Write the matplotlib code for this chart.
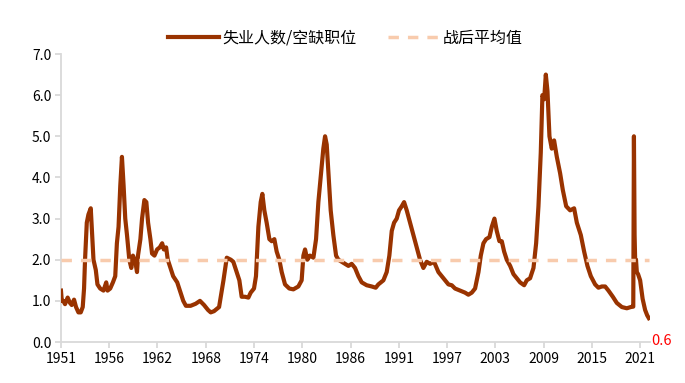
import matplotlib
matplotlib.use("Agg")
import matplotlib.pyplot as plt

plt.rcParams['font.family'] = ['Noto Sans CJK SC', 'DejaVu Sans']

# 失业人数 / 空缺职位
years = [
    1951.00, 1951.10, 1951.28, 1951.49, 1951.81, 1952.09, 1952.30, 1952.58, 1952.82, 1953.11,
    1953.39, 1953.63, 1953.79, 1953.91, 1954.12, 1954.32, 1954.60, 1954.77, 1954.93, 1955.21,
    1955.41, 1955.74, 1956.14, 1956.47, 1956.63, 1956.95, 1957.28, 1957.56, 1957.76, 1957.96,
    1958.17, 1958.37, 1958.57, 1958.77, 1958.98, 1959.26, 1959.50, 1959.70, 1959.99, 1960.19,
    1960.31, 1960.60, 1960.80, 1961.08, 1961.32, 1961.53, 1961.81, 1962.01, 1962.30, 1962.62,
    1962.94, 1963.23, 1963.43, 1963.71, 1963.91, 1964.24, 1964.56, 1965.05, 1965.45, 1965.78,
    1966.10, 1966.67, 1967.28, 1967.80, 1968.29, 1968.77, 1969.10, 1969.50, 1970.11, 1970.31,
    1970.64, 1971.04, 1971.53, 1971.83, 1972.24, 1972.56, 1972.84, 1973.24, 1973.65, 1973.93,
    1974.33, 1974.57, 1974.86, 1975.14, 1975.34, 1975.58, 1975.86, 1976.19, 1976.47, 1976.79,
    1977.07, 1977.39, 1977.68, 1978.08, 1978.60, 1979.09, 1979.69, 1980.09, 1980.30, 1980.50,
    1980.78, 1981.10, 1981.51, 1981.83, 1982.11, 1982.39, 1982.71, 1982.92, 1983.12, 1983.36,
    1983.60, 1983.92, 1984.25, 1984.53, 1984.93, 1985.33, 1985.74, 1986.14, 1986.54, 1986.95,
    1987.35, 1987.95, 1988.56, 1989.04, 1989.36, 1989.97, 1990.37, 1990.69, 1990.98, 1991.26,
    1991.58, 1991.86, 1992.19, 1992.47, 1992.79, 1993.19, 1993.60, 1994.00, 1994.40, 1994.80,
    1995.21, 1995.61, 1996.09, 1996.62, 1997.22, 1997.83, 1998.23, 1998.63, 1999.24, 1999.84,
    2000.24, 2000.65, 2001.05, 2001.46, 2001.74, 2002.06, 2002.38, 2002.79, 2003.07, 2003.39,
    2003.67, 2003.99, 2004.28, 2004.56, 2004.88, 2005.29, 2005.69, 2006.09, 2006.49, 2006.98,
    2007.30, 2007.70, 2008.11, 2008.43, 2008.71, 2008.99, 2009.19, 2009.40, 2009.60, 2009.80,
    2010.04, 2010.32, 2010.60, 2010.93, 2011.33, 2011.65, 2012.06, 2012.54, 2013.02, 2013.35,
    2013.83, 2014.23, 2014.63, 2015.04, 2015.56, 2015.96, 2016.37, 2016.77, 2017.17, 2017.70,
    2018.18, 2018.79, 2019.39, 2019.87, 2020.17, 2020.25, 2020.33, 2020.42, 2020.50, 2020.60,
    2020.75, 2021.00, 2021.30, 2021.60, 2021.85, 2022.05,
]
ratio = [
    1.25, 1.00, 1.00, 0.92, 1.08, 0.95, 0.90, 1.03, 0.85, 0.72,
    0.72, 0.85, 1.30, 2.00, 2.90, 3.10, 3.25, 2.60, 2.00, 1.75,
    1.40, 1.30, 1.25, 1.45, 1.25, 1.30, 1.45, 1.60, 2.40, 2.80,
    3.80, 4.50, 3.80, 3.00, 2.60, 2.00, 1.80, 2.10, 1.95, 1.70,
    2.10, 2.50, 3.00, 3.45, 3.40, 2.90, 2.50, 2.15, 2.10, 2.25,
    2.30, 2.40, 2.25, 2.30, 2.00, 1.80, 1.60, 1.45, 1.20, 1.00,
    0.88, 0.88, 0.93, 1.00, 0.90, 0.78, 0.72, 0.75, 0.85, 1.10,
    1.50, 2.05, 2.00, 1.95, 1.70, 1.50, 1.10, 1.10, 1.08, 1.20,
    1.30, 1.60, 2.80, 3.40, 3.60, 3.20, 2.90, 2.50, 2.45, 2.50,
    2.20, 2.00, 1.70, 1.40, 1.30, 1.28, 1.35, 1.50, 2.10, 2.25,
    2.00, 2.10, 2.05, 2.50, 3.40, 4.00, 4.70, 5.00, 4.80, 4.00,
    3.20, 2.60, 2.10, 2.00, 1.95, 1.90, 1.85, 1.90, 1.80, 1.60,
    1.45, 1.38, 1.35, 1.32, 1.40, 1.50, 1.70, 2.10, 2.70, 2.90,
    3.00, 3.20, 3.30, 3.40, 3.20, 2.90, 2.60, 2.30, 2.00, 1.80,
    1.95, 1.90, 1.95, 1.70, 1.55, 1.40, 1.38, 1.30, 1.25, 1.20,
    1.15, 1.20, 1.30, 1.70, 2.10, 2.40, 2.50, 2.55, 2.80, 3.00,
    2.70, 2.45, 2.45, 2.20, 2.00, 1.85, 1.65, 1.55, 1.45, 1.38,
    1.50, 1.55, 1.80, 2.40, 3.30, 4.60, 6.00, 5.90, 6.50, 6.10,
    5.00, 4.70, 4.90, 4.50, 4.10, 3.70, 3.30, 3.20, 3.25, 2.90,
    2.60, 2.20, 1.85, 1.60, 1.40, 1.32, 1.35, 1.35, 1.25, 1.10,
    0.95, 0.85, 0.82, 0.85, 0.86, 5.00, 2.60, 1.80, 2.00, 1.70,
    1.65, 1.50, 1.05, 0.78, 0.65, 0.58,
]
postwar_mean = 2.0
last_label = "0.6"

# 横轴刻度：从1951年1月起每70个月一个
tick_labels = ["1951", "1956", "1962", "1968", "1974", "1980", "1986",
               "1991", "1997", "2003", "2009", "2015", "2021"]
tick_pos = [1951 + 70 * k / 12 for k in range(len(tick_labels))]

fig = plt.figure(figsize=(6.85, 3.83), dpi=100)
ax = fig.add_axes([0.089, 0.107, 0.860, 0.752])

x_end = 2022.2
ax.plot(years, ratio, color="#993300", lw=3.0, solid_joinstyle="round",
        label="失业人数/空缺职位", zorder=3)
ax.plot([1951, 2022.1], [postwar_mean, postwar_mean], color="#F8CBAD", lw=2.5,
        dashes=(3, 2.6), label="战后平均值", zorder=4)

ax.set_xlim(1951, x_end)
ax.set_ylim(0, 7)
ax.set_yticks([0, 1, 2, 3, 4, 5, 6, 7])
ax.set_yticklabels(["%.1f" % v for v in range(8)], fontsize=10)
ax.set_xticks(tick_pos)
ax.set_xticklabels(tick_labels, fontsize=10)

for side in ["top", "right"]:
    ax.spines[side].set_visible(False)
for side in ["left", "bottom"]:
    ax.spines[side].set_color("#D9D9D9")
    ax.spines[side].set_linewidth(1.3)
ax.tick_params(axis="both", color="#D9D9D9", width=1.3, length=4, pad=3)

ax.text(2022.35, 0.02, last_label, color="#FF0000", fontsize=10.5,
        ha="left", va="center", clip_on=False)

fig.legend(loc="center", bbox_to_anchor=(0.504, 0.90), ncol=2, frameon=False,
           fontsize=11.5, handlelength=3.2, columnspacing=2.0, handletextpad=0.2)

fig.savefig("out.png", dpi=100)
